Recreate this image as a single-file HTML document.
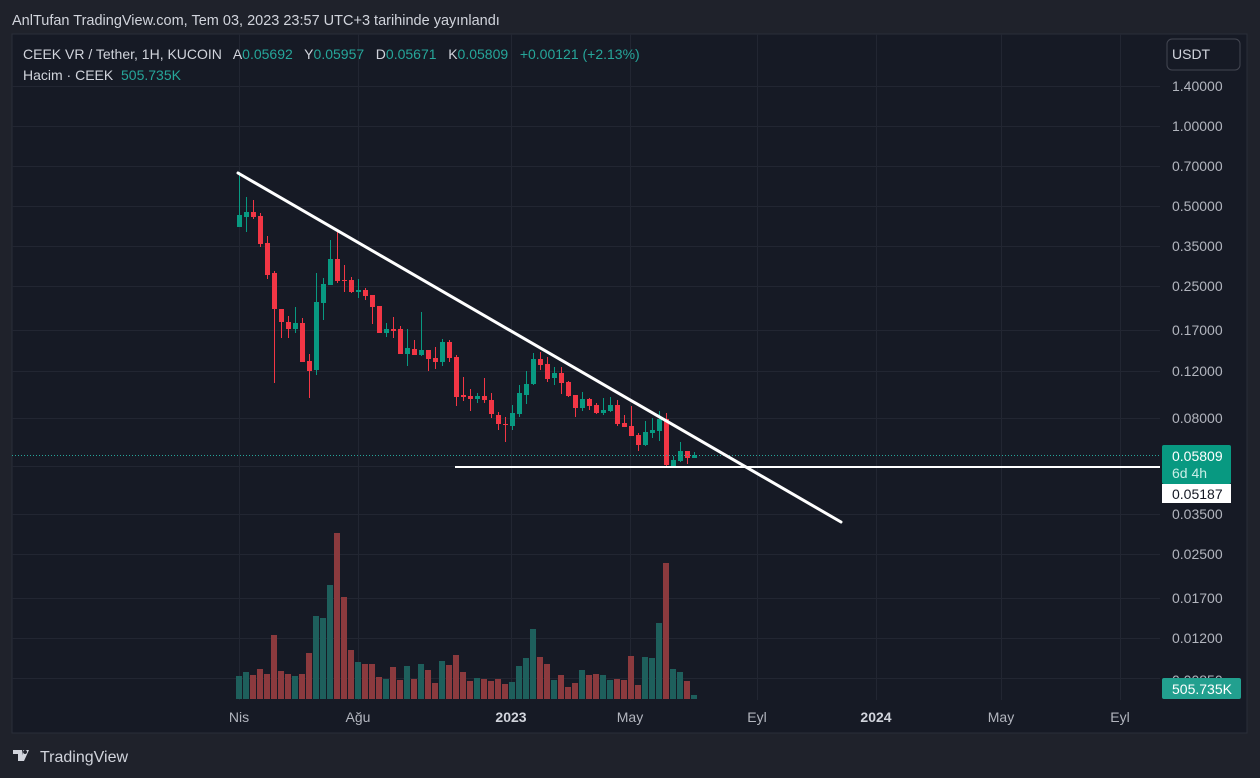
<!DOCTYPE html>
<html><head><meta charset="utf-8">
<style>
html,body{margin:0;padding:0;background:#1e222d;width:1260px;height:778px;overflow:hidden;font-family:"Liberation Sans",sans-serif;}
svg{position:absolute;left:0;top:0;}
text{white-space:pre;}
</style></head>
<body>
<svg id="s" width="1260" height="778" xmlns="http://www.w3.org/2000/svg" font-family="Liberation Sans, sans-serif" xml:space="preserve">
<rect x="0" y="0" width="1260" height="778" fill="#1f222b"/>
<text x="12" y="25" fill="#d1d4dc" font-size="14.5">AnlTufan TradingView.com, Tem 03, 2023 23:57 UTC+3 tarihinde yayınlandı</text>
<rect x="12" y="34" width="1235" height="699" fill="#161a25" stroke="#2a2e39" stroke-width="1"/>
<g id="grid" stroke="#222632" stroke-width="1"></g>
<g id="vol"></g>
<g id="cdl"></g>
<line x1="12" y1="455.5" x2="1160" y2="455.5" stroke="#26a69a" stroke-width="1" stroke-dasharray="1,2"/>
<line x1="455" y1="467" x2="1160" y2="467" stroke="#ffffff" stroke-width="2"/>
<line x1="238" y1="173" x2="841" y2="522" stroke="#ffffff" stroke-width="3" stroke-linecap="round"/>
<text x="23" y="59" font-size="14" fill="#d1d4dc">CEEK VR / Tether, 1H, KUCOIN   A<tspan fill="#26a69a">0.05692</tspan>   Y<tspan fill="#26a69a">0.05957</tspan>   D<tspan fill="#26a69a">0.05671</tspan>   K<tspan fill="#26a69a">0.05809</tspan>   <tspan fill="#26a69a">+0.00121 (+2.13%)</tspan></text>
<text x="23" y="80" font-size="14" fill="#d1d4dc">Hacim · CEEK  <tspan fill="#26a69a">505.735K</tspan></text>
<rect x="1167" y="39" width="73" height="31" rx="5" fill="#161a25" stroke="#434651"/>
<text x="1172" y="59" font-size="14" fill="#d1d4dc">USDT</text>
<g id="ylab" font-size="14" fill="#b2b5be"></g>
<g id="xlab" font-size="14" fill="#b2b5be" text-anchor="middle">
<text x="239" y="722">Nis</text><text x="358" y="722">Ağu</text><text x="511" y="722" font-weight="bold" fill="#d1d4dc">2023</text><text x="630" y="722">May</text><text x="757" y="722">Eyl</text><text x="876" y="722" font-weight="bold" fill="#d1d4dc">2024</text><text x="1001" y="722">May</text><text x="1120" y="722">Eyl</text>
</g>
<rect x="1162" y="445" width="69" height="39" rx="2" fill="#089981"/>
<text x="1172" y="461" font-size="14" fill="#ffffff">0.05809</text>
<text x="1172" y="478" font-size="14" fill="#c9eee7">6d 4h</text>
<rect x="1162" y="484" width="69" height="19" fill="#ffffff"/>
<text x="1172" y="499" font-size="14" fill="#131722">0.05187</text>
<rect x="1162" y="678" width="79" height="21" rx="2" fill="#22a08f"/>
<text x="1172" y="694" font-size="14" fill="#ffffff">505.735K</text>
<g transform="translate(13,750)" fill="#d1d4dc">
<path d="M0 0h9v11h-4v-7h-5z M10 0h6l-5 11h-3z M12 0a2 2 0 1 0 0.1 0z"/>
</g>
<text x="40" y="762" font-size="16" fill="#d1d4dc">TradingView</text>
</svg>
<script>
var NS="http://www.w3.org/2000/svg";
function el(p,t,a){var e=document.createElementNS(NS,t);for(var k in a)e.setAttribute(k,a[k]);p.appendChild(e);return e;}
var g=document.getElementById('grid');
[86,126,166,206,246,286,330,371,418,466,514,554,598,638,678].forEach(function(y){el(g,'line',{x1:12,x2:1160,y1:y+.5,y2:y+.5});});
[239,358,511,630,757,876,1001,1120].forEach(function(x){el(g,'line',{x1:x+.5,x2:x+.5,y1:34,y2:700});});
var yl=document.getElementById('ylab');
[[86,"1.40000"],[126,"1.00000"],[166,"0.70000"],[206,"0.50000"],[246,"0.35000"],[286,"0.25000"],[330,"0.17000"],[371,"0.12000"],[418,"0.08000"],[514,"0.03500"],[554,"0.02500"],[598,"0.01700"],[638,"0.01200"],[680,"0.00850"]].forEach(function(a){var t=el(yl,'text',{x:1172,y:a[0]+5});t.textContent=a[1];});
var C=[[215,227,172,227,1],[212,217,197,232,1],[212,217,200,219,0],[216,244,213,247,0],[243,275,236,279,0],[273,309,271,383,0],[309,322,309,338,0],[322,329,316,338,0],[323,329,307,333,1],[323,362,318,362,0],[361,371,354,398,0],[302,370,273,375,1],[284,303,278,320,1],[259,285,240,285,1],[259,281,232,283,0],[280,281,265,292,0],[280,292,277,293,0],[290,292,279,298,1],[290,296,288,300,0],[295,307,295,324,0],[306,333,306,333,0],[329,333,323,337,1],[329,331,317,338,0],[329,354,326,354,0],[348,354,329,366,1],[349,355,340,355,0],[350,355,312,356,1],[350,359,350,371,0],[358,362,347,369,0],[342,362,339,366,1],[342,358,340,362,0],[357,397,355,406,0],[395,397,377,401,0],[396,399,389,411,0],[396,399,393,403,1],[396,400,378,403,0],[400,414,393,418,0],[415,424,412,430,0],[424,425,417,442,0],[413,426,405,430,1],[393,414,385,417,1],[384,395,371,404,1],[359,384,353,385,1],[359,365,352,370,0],[364,379,357,382,0],[373,378,367,385,1],[373,383,367,394,0],[382,396,381,397,0],[395,408,395,417,0],[399,408,392,411,1],[399,406,398,410,0],[405,413,403,414,0],[410,413,398,415,1],[405,411,397,412,1],[405,424,400,426,0],[423,427,415,427,0],[426,436,406,436,0],[435,445,433,451,0],[432,445,421,446,1],[430,433,418,438,1],[419,431,411,441,1],[419,465,413,467,0],[460,466,456,467,1],[451,461,442,462,1],[451,458,451,464,0],[455,458,452,458,1]];
var V=[676,672,675,669,674,635,671,674,676,674,653,616,618,585,533,597,650,662,664,664,677,679,667,680,666,679,664,670,683,661,665,655,672,681,678,679,681,679,684,682,666,658,629,657,664,680,675,687,683,670,675,674,675,680,679,680,656,685,657,658,623,563,669,672,681,695];
var cg=document.getElementById('cdl'),vg=document.getElementById('vol');
C.forEach(function(c,i){var x=239+i*7;var col=c[4]?'#089981':'#f23645';
el(cg,'line',{x1:x+.5,x2:x+.5,y1:c[2],y2:c[3],stroke:col,'stroke-width':1});
el(cg,'rect',{x:x-2,y:c[0],width:5,height:Math.max(1,c[1]-c[0]),fill:col});
var v=V[i];el(vg,'rect',{x:x-3,y:v,width:6,height:699-v,fill:c[4]?'#1e5f5c':'#8b3a3e'});});
</script>
</body></html>
